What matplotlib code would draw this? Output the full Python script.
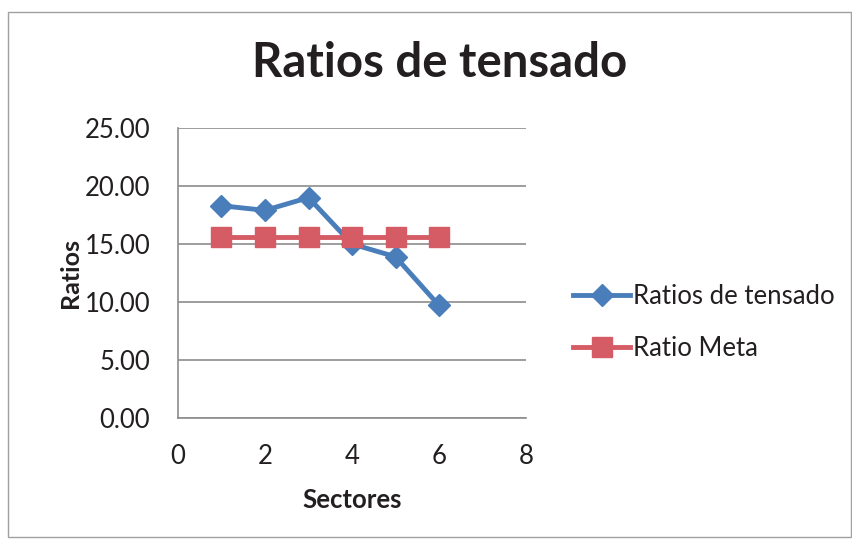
from matplotlib import pyplot as plt
import matplotlib.patches as patches

# Data
sectores = [1, 2, 3, 4, 5, 6]
ratios_tensado = [18.3, 17.9, 19.0, 15.0, 13.9, 9.7]
ratio_meta = [15.6, 15.6, 15.6, 15.6, 15.6, 15.6]

plt.rcParams['font.family'] = ['Lato', 'DejaVu Sans']

blue = '#4A7EBB'
red = '#D55B65'
txt = '#231F20'

fig = plt.figure(figsize=(8.53, 5.4), dpi=100)
ax = fig.add_axes([178/853, 1-418/540, (526-178)/853, (418-128)/540])

ax.plot(sectores, ratios_tensado, '-D', c=blue, lw=3.5, ms=11, mec=blue,
        label='Ratios de tensado', zorder=3)
ax.plot(sectores, ratio_meta, '-s', c=red, lw=3.5, ms=14, mec=red,
        label='Ratio Meta', zorder=4)

ax.set_xlim(0, 8)
ax.set_ylim(0, 25)
ax.set_xticks([0, 2, 4, 6, 8])
ax.set_yticks([0, 5, 10, 15, 20, 25])
ax.set_yticklabels(['%.2f' % v for v in [0, 5, 10, 15, 20, 25]])
ax.tick_params(length=0, labelsize=18.5, labelcolor=txt)
ax.tick_params('x', pad=18.5)
ax.tick_params('y', pad=20)

ax.grid(axis='y', color='#8C8C8C', lw=1.2)
ax.set_axisbelow(True)
for s in ['top', 'right']:
    ax.spines[s].set_visible(False)
ax.spines['left'].set_color('#8C8C8C')
ax.spines['bottom'].set_color('#8C8C8C')
ax.spines['left'].set_linewidth(1.2)
ax.spines['bottom'].set_linewidth(1.2)

ax.set_xlabel('Sectores', fontsize=18.5, fontweight='bold', color=txt, labelpad=14)
ax.set_ylabel('Ratios', fontsize=18, fontweight='bold', color=txt, labelpad=2)

fig.text(0.515, 1-63/540, 'Ratios de tensado', fontsize=34, fontweight='bold',
         color=txt, ha='center', va='center')

ax.legend(loc='center left', bbox_to_anchor=(1.07, 0.33), frameon=False,
          fontsize=18.5, labelspacing=1.05, handlelength=2.2, handletextpad=0.1,
          labelcolor=txt)

# chart frame
fig.patches.append(patches.Rectangle((8/853, 3/540), 843/853, 525/540,
                                     transform=fig.transFigure, fill=False,
                                     edgecolor='#A0A0A0', lw=1))

plt.savefig('out.png', dpi=100)
